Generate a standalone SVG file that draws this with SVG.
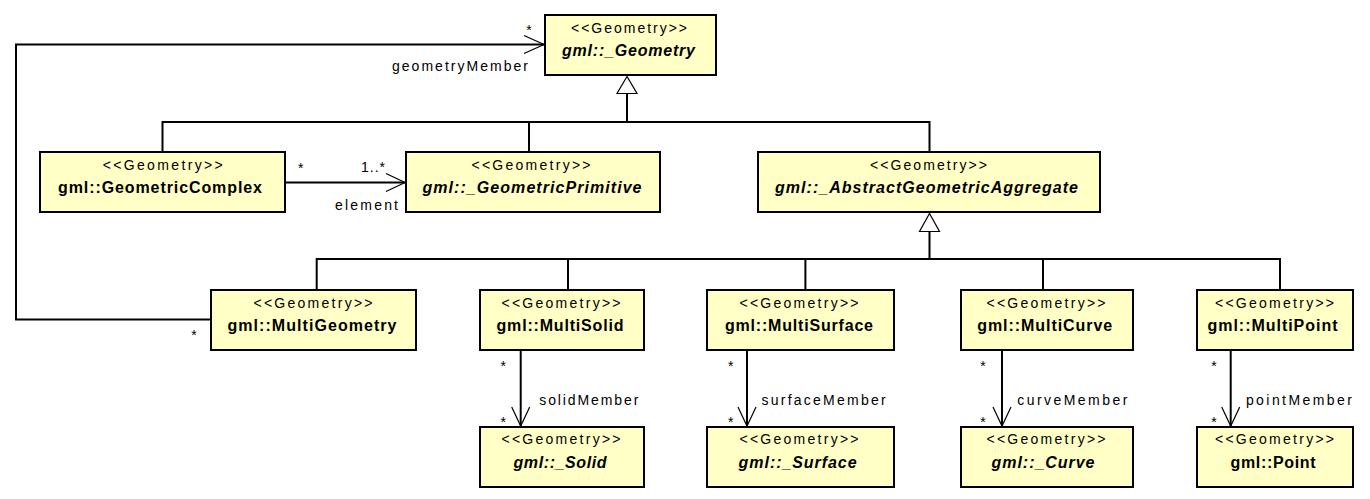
<svg xmlns="http://www.w3.org/2000/svg" width="1370" height="499" viewBox="0 0 1370 499">
<style>
.bg{fill:#fff}
.box{fill:#FFFFC6;stroke:#000;stroke-width:2}
text{font-family:"Liberation Sans",Arial,sans-serif;fill:#000}
.st{font-size:14px;text-anchor:middle}
.nm{font-size:16px;font-weight:bold;text-anchor:middle}
.it{font-style:italic}
.lb{font-size:14px}
.mid{text-anchor:middle}
.end{text-anchor:end}
.ln{fill:none;stroke:#000;stroke-width:2}
.ah{fill:none;stroke:#000;stroke-width:1.2}
.tri{fill:#fff;stroke:#000;stroke-width:1.2}
</style>
<rect class="bg" x="0" y="0" width="1370" height="499"/>
<g id="connectors">
  <path class="ln" d="M162.5,152 V122 H929.5 V152 M529,122 V152 M627,122 V93.5"/>
  <polygon class="tri" points="627,76.5 617,93.5 637,93.5"/>
  <path class="ln" d="M316.7,290 V259 H1280 V290 M568,259 V290 M805.4,259 V290 M1043,259 V290 M929.5,259 V231.5"/>
  <polygon class="tri" points="929.5,213.5 919.5,231.5 939.5,231.5"/>
  <path class="ln" d="M211,319.5 H16 V44.5 H544"/>
  <path class="ah" d="M524,35.5 L544,44.5 L524,53.5"/>
  <path class="ln" d="M285,182.5 H405"/>
  <path class="ah" d="M386,173.5 L405,182.5 L386,191.5"/>
  <path class="ln" d="M520.7,350 V426"/>
  <path class="ah" d="M511.7,407 L520.7,426 L529.7,407"/>
  <path class="ln" d="M747,350 V426"/>
  <path class="ah" d="M738,407 L747,426 L756,407"/>
  <path class="ln" d="M1002,350 V426"/>
  <path class="ah" d="M993,407 L1002,426 L1011,407"/>
  <path class="ln" d="M1230.7,350 V426"/>
  <path class="ah" d="M1221.7,407 L1230.7,426 L1239.7,407"/>
  <text class="lb mid" x="529" y="35">*</text>
  <text class="lb end" x="528" y="70.5" textLength="136">geometryMember</text>
  <text class="lb mid" x="300.7" y="173">*</text>
  <text class="lb" x="361" y="172" textLength="24">1..*</text>
  <text class="lb" x="335" y="209.5" textLength="63">element</text>
  <text class="lb mid" x="194" y="339.5">*</text>
  <text class="lb mid" x="503.3" y="371">*</text>
  <text class="lb mid" x="503.3" y="427">*</text>
  <text class="lb" x="539.3" y="404.5" textLength="99">solidMember</text>
  <text class="lb mid" x="730.7" y="371">*</text>
  <text class="lb mid" x="730.7" y="427">*</text>
  <text class="lb" x="761.6" y="404.5" textLength="124">surfaceMember</text>
  <text class="lb mid" x="983" y="371">*</text>
  <text class="lb mid" x="983" y="427">*</text>
  <text class="lb" x="1017.3" y="404.5" textLength="110">curveMember</text>
  <text class="lb mid" x="1214" y="371">*</text>
  <text class="lb mid" x="1214" y="427">*</text>
  <text class="lb" x="1245.9" y="404.5" textLength="106">pointMember</text>
</g>
<g id="n_geometry">
  <rect class="box" x="545" y="15" width="171" height="60"/>
  <text class="st" x="629" y="32.5" textLength="116">&lt;&lt;Geometry&gt;&gt;</text>
  <text class="nm it" x="628.5" y="55.5" textLength="133">gml::_Geometry</text>
</g>
<g id="n_complex">
  <rect class="box" x="40" y="152" width="245" height="60"/>
  <text class="st" x="162.7" y="169.5" textLength="120">&lt;&lt;Geometry&gt;&gt;</text>
  <text class="nm" x="160" y="192.5" textLength="204">gml::GeometricComplex</text>
</g>
<g id="n_primitive">
  <rect class="box" x="406" y="152" width="254" height="60"/>
  <text class="st" x="531" y="169.5" textLength="119">&lt;&lt;Geometry&gt;&gt;</text>
  <text class="nm it" x="532" y="192.5" textLength="219">gml::_GeometricPrimitive</text>
</g>
<g id="n_aggregate">
  <rect class="box" x="758" y="152" width="342" height="60"/>
  <text class="st" x="928.5" y="169.5" textLength="117">&lt;&lt;Geometry&gt;&gt;</text>
  <text class="nm it" x="926.5" y="192.5" textLength="303">gml::_AbstractGeometricAggregate</text>
</g>
<g id="n_multigeometry">
  <rect class="box" x="211" y="290" width="205" height="60"/>
  <text class="st" x="313" y="307.5" textLength="119">&lt;&lt;Geometry&gt;&gt;</text>
  <text class="nm" x="312" y="330.5" textLength="169">gml::MultiGeometry</text>
</g>
<g id="n_multisolid">
  <rect class="box" x="480" y="290" width="164" height="60"/>
  <text class="st" x="561" y="307.5" textLength="119">&lt;&lt;Geometry&gt;&gt;</text>
  <text class="nm" x="560" y="330.5" textLength="127">gml::MultiSolid</text>
</g>
<g id="n_multisurface">
  <rect class="box" x="707" y="290" width="187" height="60"/>
  <text class="st" x="799" y="307.5" textLength="119">&lt;&lt;Geometry&gt;&gt;</text>
  <text class="nm" x="799" y="330.5" textLength="148">gml::MultiSurface</text>
</g>
<g id="n_multicurve">
  <rect class="box" x="961" y="290" width="172" height="60"/>
  <text class="st" x="1046" y="307.5" textLength="119">&lt;&lt;Geometry&gt;&gt;</text>
  <text class="nm" x="1044.7" y="330.5" textLength="135">gml::MultiCurve</text>
</g>
<g id="n_multipoint">
  <rect class="box" x="1197" y="290" width="156" height="60"/>
  <text class="st" x="1274.5" y="307.5" textLength="119">&lt;&lt;Geometry&gt;&gt;</text>
  <text class="nm" x="1272.5" y="330.5" textLength="130">gml::MultiPoint</text>
</g>
<g id="n_solid">
  <rect class="box" x="480" y="427" width="164" height="60"/>
  <text class="st" x="561" y="444" textLength="119">&lt;&lt;Geometry&gt;&gt;</text>
  <text class="nm it" x="560" y="467.5" textLength="93">gml::_Solid</text>
</g>
<g id="n_surface">
  <rect class="box" x="707" y="427" width="187" height="60"/>
  <text class="st" x="799" y="444" textLength="119">&lt;&lt;Geometry&gt;&gt;</text>
  <text class="nm it" x="797.6" y="467.5" textLength="118">gml::_Surface</text>
</g>
<g id="n_curve">
  <rect class="box" x="961" y="427" width="172" height="60"/>
  <text class="st" x="1046" y="444" textLength="119">&lt;&lt;Geometry&gt;&gt;</text>
  <text class="nm it" x="1043" y="467.5" textLength="103">gml::_Curve</text>
</g>
<g id="n_point">
  <rect class="box" x="1197" y="427" width="156" height="60"/>
  <text class="st" x="1274.5" y="444" textLength="119">&lt;&lt;Geometry&gt;&gt;</text>
  <text class="nm" x="1273" y="467.5" textLength="85">gml::Point</text>
</g>
</svg>
